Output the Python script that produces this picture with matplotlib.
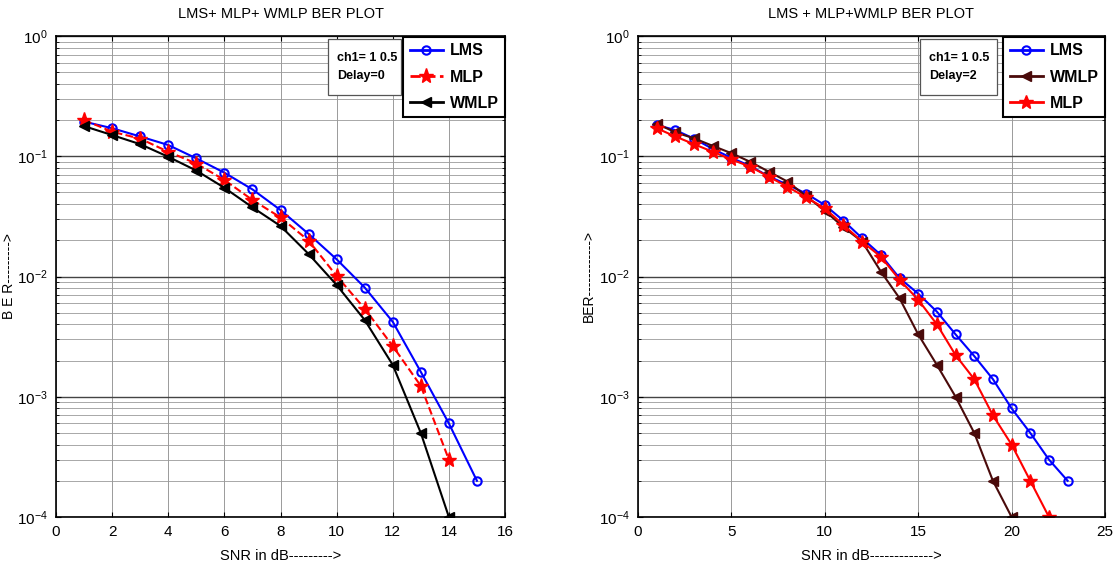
import numpy as np
import matplotlib
matplotlib.use('Agg')
import matplotlib.pyplot as plt
from matplotlib.patches import Rectangle

matplotlib.rcParams['font.family'] = ['Liberation Sans', 'DejaVu Sans']
matplotlib.rcParams['mathtext.default'] = 'regular'

# left chart: delay = 0
snr_left_lms = [1, 2, 3, 4, 5, 6, 7, 8, 9, 10, 11, 12, 13, 14, 15]
ber_left_lms = [0.194, 0.171, 0.146, 0.124, 0.096, 0.073, 0.053, 0.0357, 0.0226,
                0.0139, 0.0081, 0.0042, 0.00161, 0.0006, 0.0002]
snr_left_mlp = [1, 2, 3, 4, 5, 6, 7, 8, 9, 10, 11, 12, 13, 14]
ber_left_mlp = [0.2, 0.16, 0.14, 0.109, 0.087, 0.0635, 0.0433, 0.031, 0.0199,
                0.0101, 0.0054, 0.00264, 0.00123, 0.0003]
snr_left_wmlp = [1, 2, 3, 4, 5, 6, 7, 8, 9, 10, 11, 12, 13, 14]
ber_left_wmlp = [0.178, 0.150, 0.126, 0.099, 0.076, 0.0547, 0.0376, 0.0263, 0.0154,
                 0.0085, 0.00435, 0.00184, 0.0005, 0.0001]

# right chart: delay = 2
snr_right_lms = list(range(1, 24))
ber_right_lms = [0.182, 0.165, 0.14, 0.115, 0.097, 0.083, 0.068, 0.058, 0.049, 0.0393,
                 0.0291, 0.0208, 0.0151, 0.0097, 0.0072, 0.0051, 0.0033, 0.00218,
                 0.0014, 0.0008, 0.0005, 0.0003, 0.0002]
snr_right_wmlp = list(range(1, 21))
ber_right_wmlp = [0.187, 0.158, 0.141, 0.122, 0.106, 0.090, 0.0745, 0.0616, 0.0466,
                  0.0352, 0.0257, 0.0195, 0.011, 0.0066, 0.0033, 0.00184, 0.001,
                  0.0005, 0.0002, 0.0001]
snr_right_mlp = list(range(1, 23))
ber_right_mlp = [0.171, 0.146, 0.126, 0.109, 0.094, 0.082, 0.0676, 0.0558, 0.0455,
                 0.0369, 0.0268, 0.0195, 0.0146, 0.0094, 0.0064, 0.0040, 0.00222,
                 0.0014, 0.0007, 0.0004, 0.0002, 0.0001]


def style_axes(ax, xmax, xticks, title, xlabel, ylabel):
    ax.set_yscale('log')
    ax.set_ylim(1e-4, 1)
    ax.set_xlim(0, xmax)
    ax.set_xticks(xticks)
    ax.set_title(title, fontsize=10.5, pad=13)
    ax.set_xlabel(xlabel, fontsize=10.5, labelpad=7)
    ax.set_ylabel(ylabel, fontsize=10)
    ax.yaxis.set_label_coords(-0.09, 0.5)
    ax.tick_params(which='both', direction='in', top=True, right=True,
                   labelsize=11, pad=6)
    ax.grid(which='major', axis='x', color='#8a8a8a', linestyle='-', linewidth=0.6)
    ax.grid(which='major', axis='y', color='#444444', linestyle='-', linewidth=1.0)
    ax.grid(which='minor', axis='y', color='#9a9a9a', linestyle='-', linewidth=0.6)
    for s in ax.spines.values():
        s.set_linewidth(1.2)


def add_boxes(ax, label_text, x0, x1):
    ax.add_patch(Rectangle((x0, 0.877), x1 - x0, 0.117, transform=ax.transAxes,
                           facecolor='white', edgecolor='#555555', linewidth=0.9,
                           zorder=5))
    ax.text(x0 + 0.02, 0.935, label_text, transform=ax.transAxes, fontsize=9,
            fontweight='bold', va='center', ha='left', linespacing=1.7, zorder=6)
    leg = ax.legend(loc='upper right', bbox_to_anchor=(1.0, 0.998),
                    prop={'weight': 'bold', 'size': 11.5}, fancybox=False,
                    framealpha=1, edgecolor='black', borderaxespad=0.0,
                    handlelength=2.1, handletextpad=0.4, labelspacing=0.7,
                    borderpad=0.4)
    leg.get_frame().set_linewidth(1.5)
    for h in leg.get_lines():
        h.set_linewidth(2.0)
    leg.set_zorder(7)


fig = plt.figure(figsize=(11.2, 5.71), dpi=100)

ax1 = fig.add_axes([56 / 1120, 54 / 571, 449 / 1120, 481 / 571])
ax1.plot(snr_left_lms, ber_left_lms, color='blue', lw=1.5, marker='o',
         markerfacecolor='none', markeredgewidth=1.5, markersize=6, label='LMS')
ax1.plot(snr_left_mlp, ber_left_mlp, color='red', lw=1.5, linestyle='--', marker='*',
         markersize=11, label='MLP')
ax1.plot(snr_left_wmlp, ber_left_wmlp, color='black', lw=1.5, marker='<',
         markersize=7, label='WMLP')
style_axes(ax1, 16, range(0, 17, 2), 'LMS+ MLP+ WMLP BER PLOT',
           'SNR in dB--------->', 'B E R--------->')
add_boxes(ax1, 'ch1= 1 0.5\nDelay=0', 0.606, 0.768)

ax2 = fig.add_axes([638 / 1120, 54 / 571, 467 / 1120, 481 / 571])
ax2.plot(snr_right_lms, ber_right_lms, color='blue', lw=1.5, marker='o',
         markerfacecolor='none', markeredgewidth=1.5, markersize=6, label='LMS')
ax2.plot(snr_right_wmlp, ber_right_wmlp, color='#4a0a0a', lw=1.5, marker='<',
         markersize=7, label='WMLP')
ax2.plot(snr_right_mlp, ber_right_mlp, color='red', lw=1.5, marker='*',
         markersize=10, label='MLP')
style_axes(ax2, 25, range(0, 26, 5), 'LMS + MLP+WMLP BER PLOT',
           'SNR in dB------------->', 'BER------------>')
add_boxes(ax2, 'ch1= 1 0.5\nDelay=2', 0.604, 0.769)

fig.savefig('out.png', dpi=100)
